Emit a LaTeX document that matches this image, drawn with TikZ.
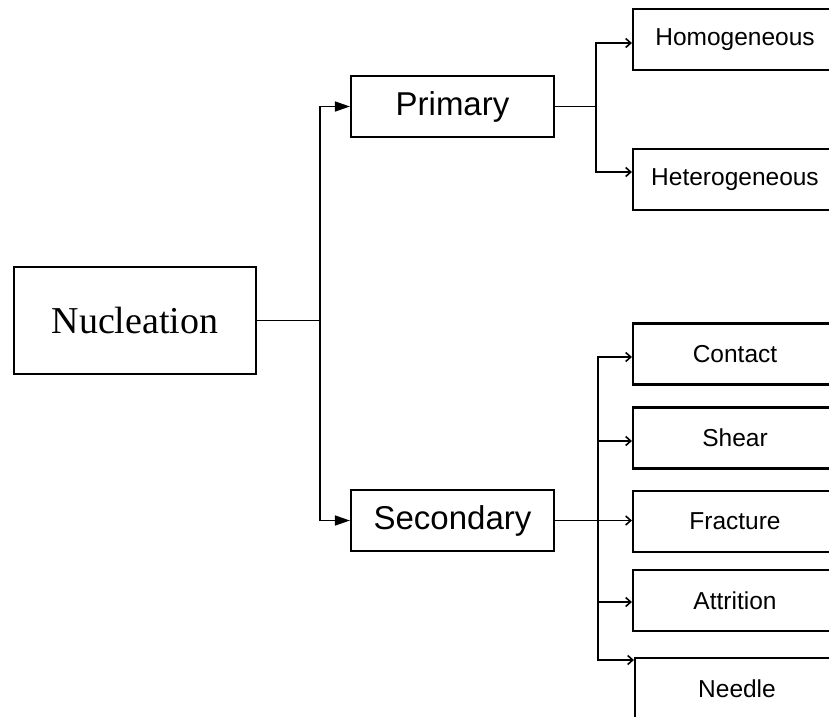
\documentclass[tikz,border=0pt]{standalone}
\usepackage{fontspec}
\setmainfont{Liberation Sans}
\newfontfamily\serifface{Liberation Serif}
\usetikzlibrary{arrows.meta}
\begin{document}
\begin{tikzpicture}[x=1pt,y=-1pt,
  box/.style={draw, line width=2.2pt, rectangle, inner sep=0pt, align=center},
  rootbox/.style={box, minimum width=242pt, minimum height=107pt, font=\serifface\fontsize{38}{42}\selectfont},
  bigbox/.style={box, minimum width=203pt, minimum height=61pt, font=\fontsize{33}{36}\selectfont},
  leafbox/.style={box, minimum width=204pt, minimum height=61pt, font=\fontsize{24.5}{28}\selectfont},
  link/.style={line width=1.6pt},
  mainarrow/.style={link, -{Triangle[length=15pt,width=10pt]}},
  leafarrow/.style={link, -{Straight Barb[length=5pt,width=9pt]}}
]
\useasboundingbox (0,0) rectangle (829,716);
\fill[white] (0,0) rectangle (829,716);
\clip (0,0) rectangle (829,716);

\node[rootbox] (nuc) at (135,320.5) {Nucleation};
\node[bigbox] (pri) at (452.5,106.5) {Primary};
\node[bigbox] (sec) at (452.5,520.5) {Secondary};

\node[leafbox] (hom) at (735,39.5) {Homogeneous};
\node[leafbox] (het) at (735,179.5) {Heterogeneous};

\node[leafbox] (con) at (735,354) {Contact};
\node[leafbox] (she) at (735,438) {Shear};
\node[leafbox] (fra) at (735,521.5) {Fracture};
\node[leafbox] (att) at (735,600.5) {Attrition};
\node[leafbox] (nee) at (737,688.5) {Needle};

\coordinate (j1) at (320,320.5);
\coordinate (j2) at (596,106.5);
\coordinate (j3) at (598,520.5);

% root to primary / secondary
\draw[link] (nuc.east) -- (j1);
\draw[mainarrow] (j1) |- (pri.west);
\draw[mainarrow] (j1) |- (sec.west);

% primary branches
\draw[link] (pri.east) -- (j2);
\draw[leafarrow] (j2) |- ([yshift=-3.5pt]hom.west);
\draw[leafarrow] (j2) |- ([yshift=7.5pt]het.west);

% secondary branches
\draw[leafarrow] (sec.east) -- (sec.east -| fra.west);
\draw[leafarrow] (j3) |- ([yshift=-3pt]con.west);
\draw[leafarrow] (j3) |- ([yshift=-3pt]she.west);
\draw[leafarrow] (j3) |- ([yshift=-1.5pt]att.west);
\draw[leafarrow] (j3) |- ([yshift=28.5pt]nee.west);
\end{tikzpicture}
\end{document}
